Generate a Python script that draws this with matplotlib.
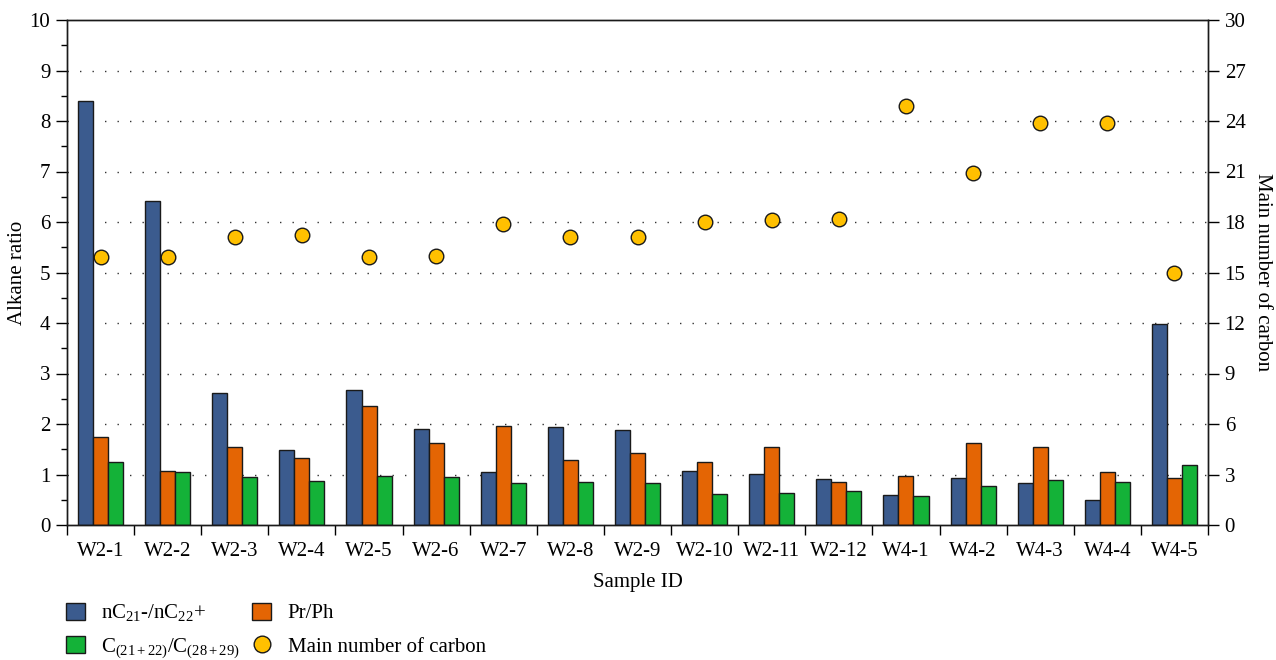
import numpy as np
import matplotlib
matplotlib.use("Agg")
import matplotlib.pyplot as plt
from matplotlib.lines import Line2D
from matplotlib.patches import Patch
from matplotlib.ticker import MultipleLocator, FixedLocator

plt.rcParams['font.family'] = ['Liberation Serif', 'DejaVu Serif']
plt.rcParams['mathtext.fontset'] = 'custom'
plt.rcParams['mathtext.rm'] = 'Liberation Serif'
plt.rcParams['mathtext.it'] = 'Liberation Serif:italic'

samples = ["W2-1", "W2-2", "W2-3", "W2-4", "W2-5", "W2-6", "W2-7", "W2-8", "W2-9",
           "W2-10", "W2-11", "W2-12", "W4-1", "W4-2", "W4-3", "W4-4", "W4-5"]
nc21_nc22 = [8.39, 6.42, 2.61, 1.49, 2.68, 1.91, 1.04, 1.94, 1.89,
             1.06, 1.01, 0.91, 0.60, 0.93, 0.83, 0.50, 3.99]
pr_ph = [1.74, 1.07, 1.55, 1.33, 2.36, 1.62, 1.97, 1.29, 1.43,
         1.24, 1.55, 0.85, 0.98, 1.62, 1.55, 1.04, 0.93]
c2122_c2829 = [1.25, 1.05, 0.96, 0.88, 0.98, 0.96, 0.84, 0.86, 0.84,
               0.61, 0.64, 0.68, 0.58, 0.78, 0.90, 0.86, 1.18]
main_carbon = [15.9, 15.9, 17.1, 17.2, 15.9, 16.0, 17.9, 17.1, 17.1,
               18.0, 18.1, 18.2, 24.9, 20.9, 23.9, 23.9, 15.0]

c_blue = '#3B5B8E'
c_orange = '#E46504'
c_green = '#14B238'
c_yellow = '#FFC000'

fig = plt.figure(figsize=(12.76, 6.60), dpi=100)
ax = fig.add_axes([67/1276, 1-525/660, (1208-67)/1276, (525-20)/660])
ax2 = ax.twinx()

x = np.arange(len(samples))
w = 0.224
ax.set_axisbelow(True)
for vals, off, col in [(nc21_nc22, -w, c_blue), (pr_ph, 0, c_orange), (c2122_c2829, w, c_green)]:
    ax.bar(x + off, vals, width=w, color=col, edgecolor='#1a1a1a', linewidth=1.0, zorder=2)

ax2.scatter(x, main_carbon, s=110, color=c_yellow, edgecolor='#1a1a1a', linewidth=1.0, zorder=3)

ax.set_xlim(-0.5, len(samples) - 0.5)
ax.set_ylim(0, 10)
ax2.set_ylim(0, 30)

ax.yaxis.set_major_locator(MultipleLocator(1))
ax.yaxis.set_minor_locator(MultipleLocator(0.5))
ax2.yaxis.set_major_locator(MultipleLocator(3))

for yv in range(1, 10):
    ax.axhline(yv, color='#333333', linewidth=1.0, linestyle=(0, (1, 8)), zorder=0.5)

ax.set_xticks(x)
ax.set_xticklabels(samples)
ax.xaxis.set_minor_locator(FixedLocator(np.arange(-0.5, len(samples), 1.0)))
ax.tick_params(axis='x', which='major', length=0, pad=12, labelsize=15)
ax.tick_params(axis='x', which='minor', length=7, width=1.0, direction='out')
ax.tick_params(axis='y', which='major', length=8, width=1.0, direction='out', labelsize=15, pad=4)
ax.tick_params(axis='y', which='minor', length=4, width=1.0, direction='out')
ax2.tick_params(axis='y', which='major', length=8, width=1.0, direction='out', labelsize=15, pad=4)

for a in (ax, ax2):
    for sp in a.spines.values():
        sp.set_linewidth(1.0)
        sp.set_color('#1a1a1a')

axw, axh = 1208 - 67, 525 - 20
ax.set_ylabel('Alkane ratio', fontsize=15, va='center')
ax.yaxis.set_label_coords((18 - 67) / axw, 0.5)
ax2.set_ylabel('Main number of carbon', fontsize=15, rotation=270, va='center')
ax2.yaxis.set_label_coords((1262 - 67) / axw, 0.5)
ax.set_xlabel('Sample ID', fontsize=15, va='center')
ax.xaxis.set_label_coords(0.5, (525 - 582) / axh)

handles = [
    Patch(facecolor=c_blue, edgecolor='#1a1a1a', linewidth=1.0),
    Patch(facecolor=c_green, edgecolor='#1a1a1a', linewidth=1.0),
    Patch(facecolor=c_orange, edgecolor='#1a1a1a', linewidth=1.0),
    Line2D([], [], marker='o', linestyle='none', markersize=12, markerfacecolor=c_yellow,
           markeredgecolor='#1a1a1a', markeredgewidth=1.0),
]
labels = [r'nC$_{\mathrm{21}}$-/nC$_{\mathrm{22}}$+',
          r'C$_{\mathrm{(21+22)}}$/C$_{\mathrm{(28+29)}}$',
          'Pr/Ph',
          'Main number of carbon']
fig.legend(handles, labels, ncol=2, loc='upper left', bbox_to_anchor=(0.045, 0.100),
           frameon=False, fontsize=15, handlelength=0.9, handleheight=0.9,
           columnspacing=0.6, labelspacing=0.6, handletextpad=0.8, borderaxespad=0)

fig.savefig('out.png', dpi=100)
